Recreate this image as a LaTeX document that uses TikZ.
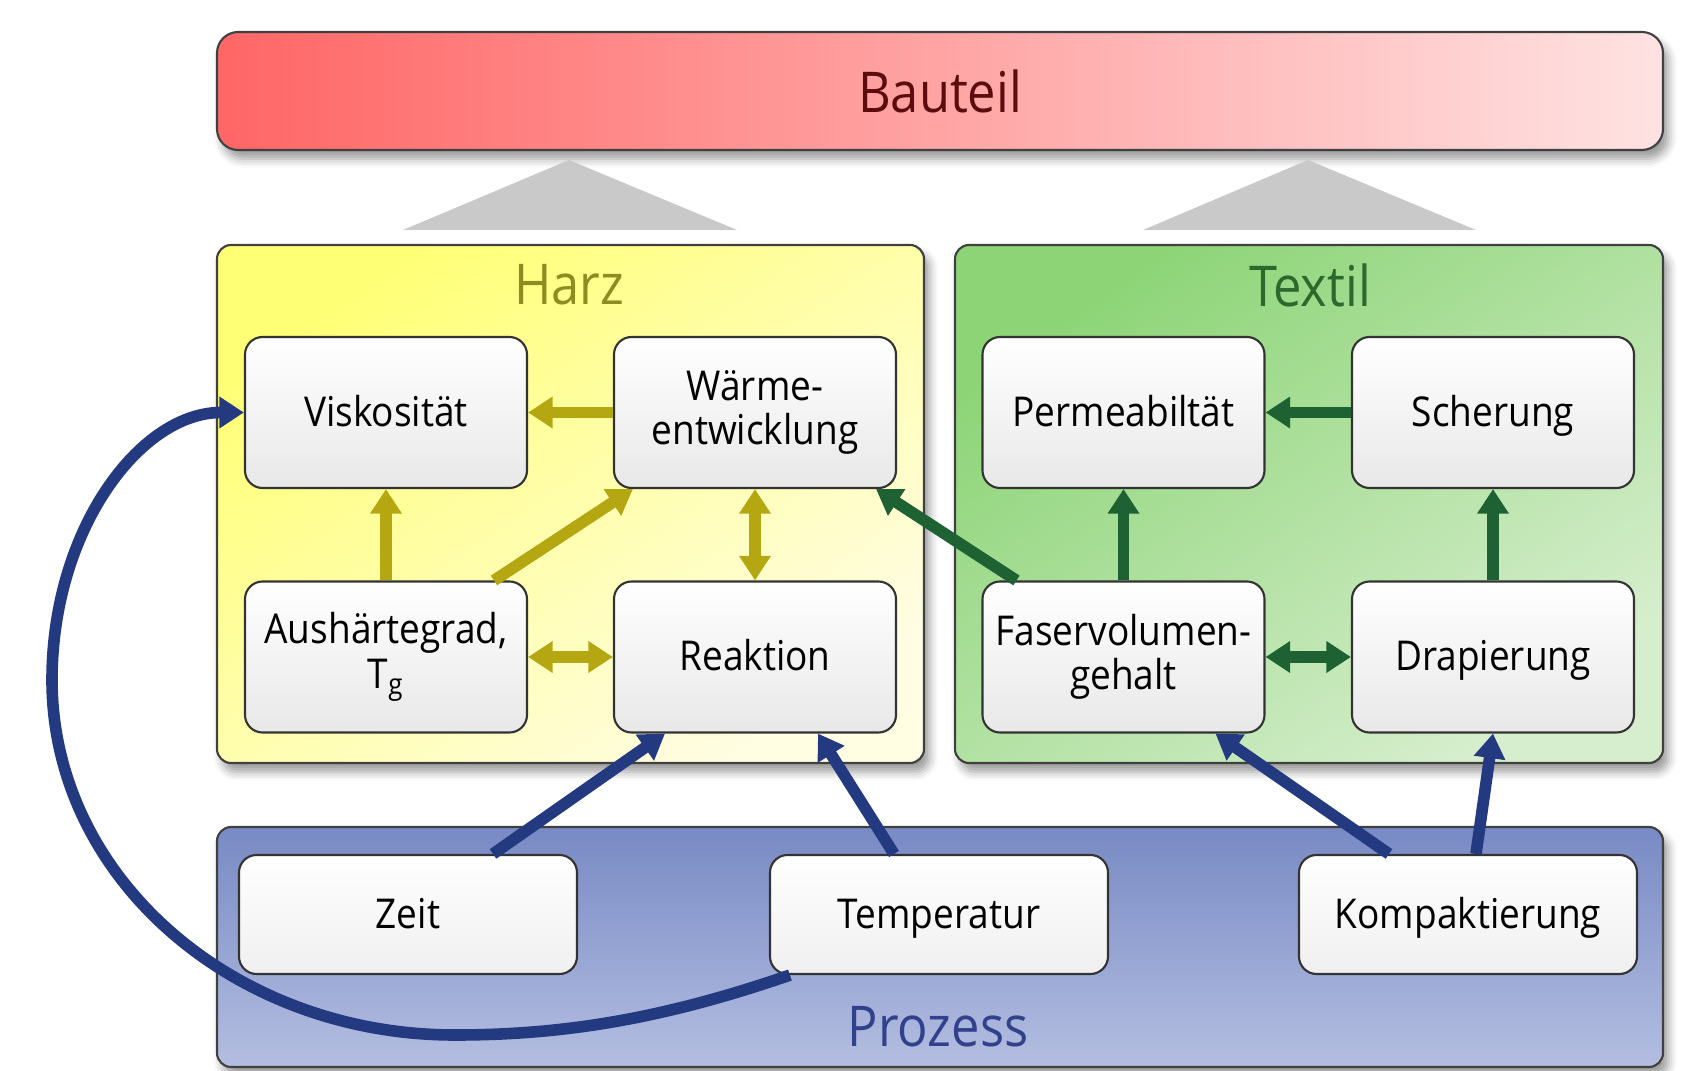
\documentclass[tikz,border=0pt]{standalone}
\usepackage{fontspec}
\setmainfont{Open Sans}[FakeStretch=0.9]
\usetikzlibrary{arrows.meta,shadows.blur}

\definecolor{bauteillinks}{RGB}{255,102,102}
\definecolor{bauteilrechts}{RGB}{255,226,226}
\definecolor{bauteiltext}{RGB}{92,12,12}
\definecolor{harzoben}{RGB}{255,255,118}
\definecolor{harzunten}{RGB}{255,253,226}
\definecolor{harztext}{RGB}{140,140,32}
\definecolor{harzfarbe}{RGB}{181,167,18}
\definecolor{textiloben}{RGB}{140,212,118}
\definecolor{textilunten}{RGB}{214,238,205}
\definecolor{textiltext}{RGB}{45,105,45}
\definecolor{textilfarbe}{RGB}{30,98,52}
\definecolor{prozoben}{RGB}{120,138,196}
\definecolor{prozunten}{RGB}{180,190,225}
\definecolor{proztext}{RGB}{50,65,140}
\definecolor{prozfarbe}{RGB}{35,58,128}

\begin{document}
\begin{tikzpicture}[
    kasten/.style={draw=black!80, line width=0.6pt, rounded corners=5pt,
      top color=white, bottom color=black!9, align=center,
      minimum width=2.82cm, minimum height=1.51cm,
      font=\fontsize{11.7}{12.6}\selectfont},
    zeile/.style={text height=1.9ex, text depth=0.45ex},
    prozkasten/.style={kasten, zeile, minimum width=3.38cm, minimum height=1.19cm, bottom color=black!6},
    feld/.style={draw=black!75, line width=0.6pt, rounded corners=4pt,
      blur shadow={shadow xshift=1.5pt, shadow yshift=-2.5pt, shadow blur radius=2.5pt}},
    titel/.style={font=\fontsize{16}{18}\selectfont},
    keil/.style={fill=black!21},
    pfeil/.style={line width=3.3pt, -{Triangle[width=8.6pt,length=7pt]}},
    doppelpfeil/.style={line width=3.3pt,
      {Triangle[width=8.6pt,length=7pt]}-{Triangle[width=8.6pt,length=7pt]}}
  ]
  \useasboundingbox (0,0) rectangle (16.99,10.70);

  % Bauteil und die beiden Keile darunter
  \node[feld, left color=bauteillinks, right color=bauteilrechts, rounded corners=6pt,
    minimum width=14.46cm, minimum height=1.18cm, titel, text=bauteiltext] (bauteil) at (9.40,9.79) {Bauteil};
  \fill[keil] (5.69,9.10) -- (4.03,8.40) -- (7.37,8.40) -- cycle;
  \fill[keil] (13.08,9.10) -- (11.43,8.40) -- (14.76,8.40) -- cycle;

  % die drei Felder
  \draw[feld, top color=harzoben, bottom color=harzunten, shading angle=35] (2.17,3.07) rectangle (9.24,8.25);
  \draw[feld, top color=textiloben, bottom color=textilunten, shading angle=35] (9.55,3.07) rectangle (16.63,8.25);
  \draw[feld, top color=prozoben, bottom color=prozunten] (2.17,0.03) rectangle (16.63,2.43);
  \node[titel, text=harztext] (harz) at (5.69,7.85) {Harz};
  \node[titel, text=textiltext] (textil) at (13.10,7.85) {Textil};
  \node[titel, text=proztext] (prozess) at (9.38,0.43) {Prozess};

  % Harz
  \node[kasten, zeile] (visk) at (3.86,6.575) {Viskosität};
  \node[kasten] (waerme) at (7.55,6.575) {Wärme-\\entwicklung};
  \node[kasten] (aush) at (3.86,4.13) {Aushärtegrad,\\T\textsubscript{g}};
  \node[kasten, zeile] (reakt) at (7.55,4.13) {Reaktion};

  % Textil
  \node[kasten, zeile] (perm) at (11.235,6.575) {Permeabiltät};
  \node[kasten, zeile] (scher) at (14.93,6.575) {Scherung};
  \node[kasten] (faser) at (11.235,4.13) {Faservolumen-\\gehalt};
  \node[kasten, zeile] (drap) at (14.93,4.13) {Drapierung};

  % Prozess
  \node[prozkasten] (zeit) at (4.08,1.555) {Zeit};
  \node[prozkasten] (temp) at (9.39,1.555) {Temperatur};
  \node[prozkasten] (kompakt) at (14.68,1.555) {Kompaktierung};

  % Pfeile im Harz
  \draw[pfeil, harzfarbe] (waerme) -- (visk);
  \draw[pfeil, harzfarbe] (aush) -- (visk);
  \draw[pfeil, harzfarbe] ([xshift=-0.34cm]aush.north east) -- ([xshift=0.2cm]waerme.south west);
  \draw[doppelpfeil, harzfarbe] (waerme) -- (reakt);
  \draw[doppelpfeil, harzfarbe] (aush) -- (reakt);

  % Pfeile im Textil
  \draw[pfeil, textilfarbe] (scher) -- (perm);
  \draw[pfeil, textilfarbe] (faser) -- (perm);
  \draw[pfeil, textilfarbe] (drap) -- (scher);
  \draw[doppelpfeil, textilfarbe] (faser) -- (drap);
  \draw[pfeil, textilfarbe] ([xshift=0.35cm]faser.north west) -- ([xshift=-0.21cm]waerme.south east);

  % Pfeile aus dem Prozess
  \draw[pfeil, prozfarbe] ([xshift=0.85cm]zeit.north) -- ([xshift=-0.9cm]reakt.south);
  \draw[pfeil, prozfarbe] ([xshift=-0.45cm]temp.north) -- ([xshift=0.63cm]reakt.south);
  \draw[pfeil, prozfarbe] ([xshift=-0.79cm]kompakt.north) -- ([xshift=0.92cm]faser.south);
  \draw[pfeil, prozfarbe] ([xshift=0.08cm]kompakt.north) -- (drap.south);
  \draw[pfeil, prozfarbe] ([xshift=0.21cm]temp.south west)
    .. controls (6.6,0.5) and (5.6,0.35) .. (4.55,0.35)
    .. controls (2.33,0.35) and (0.52,1.93) .. (0.52,3.9)
    .. controls (0.52,5.4) and (1.4,6.575) .. (visk.west);
\end{tikzpicture}
\end{document}
